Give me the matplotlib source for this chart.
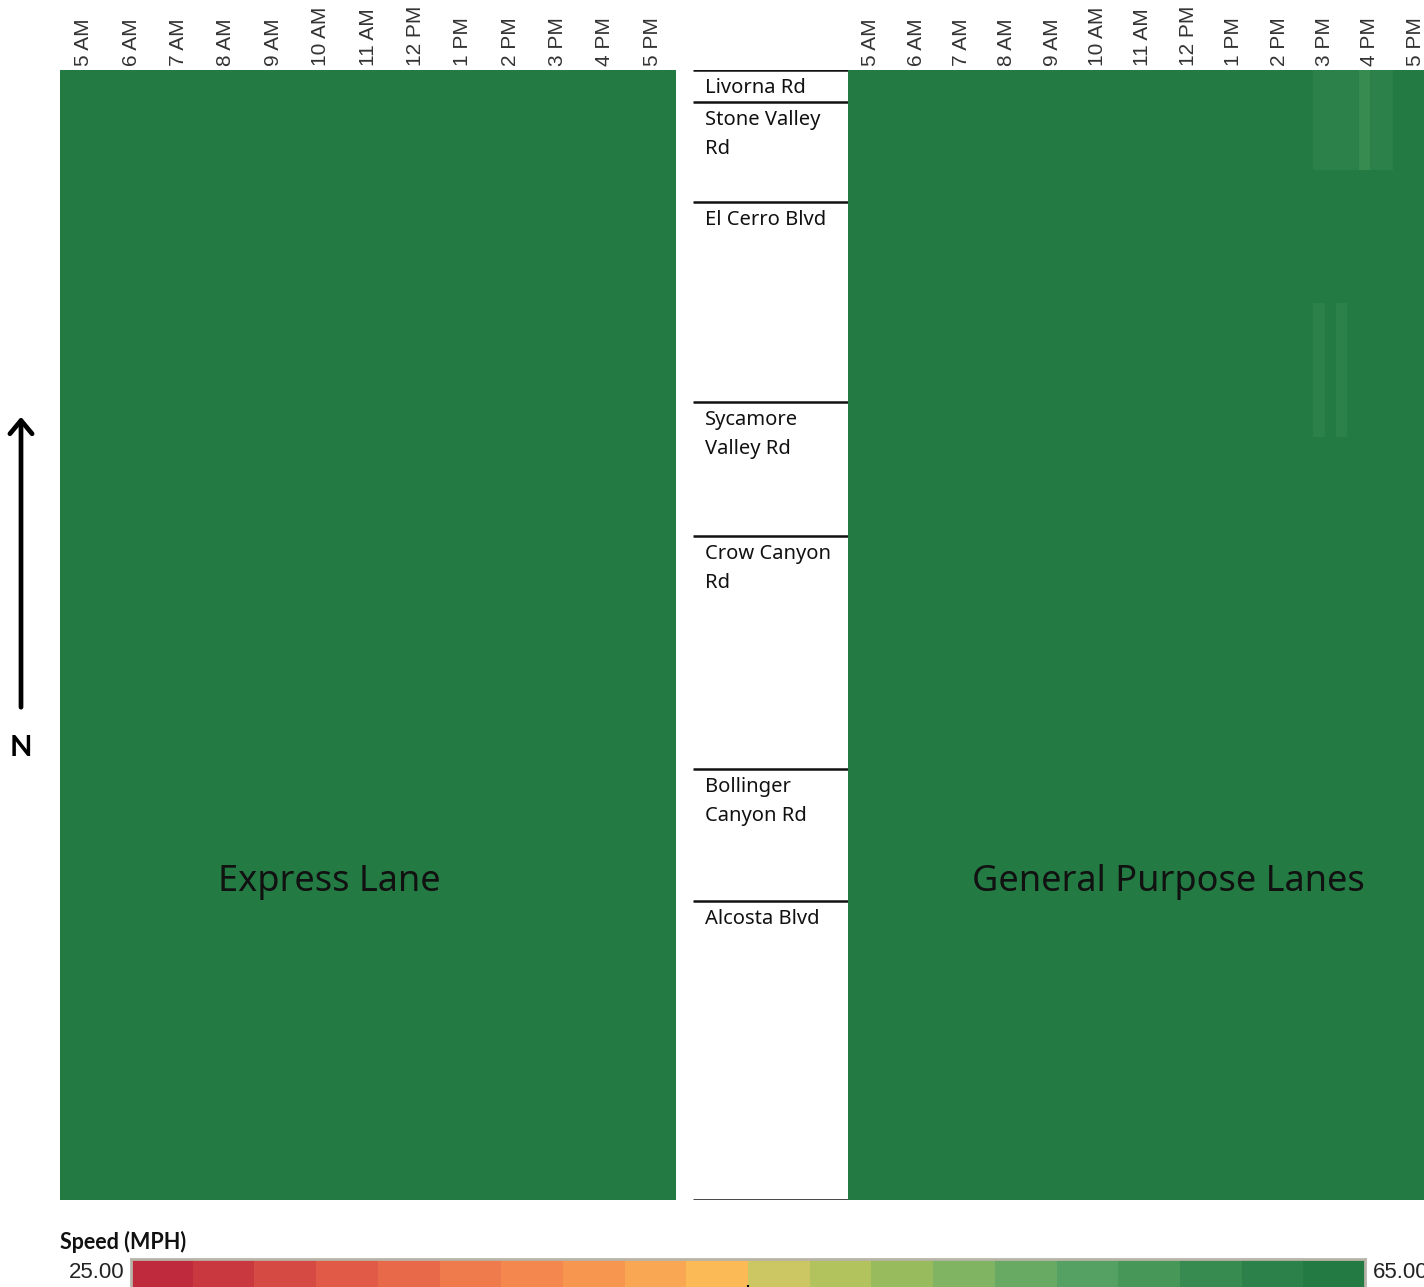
import matplotlib
matplotlib.use("Agg")
import matplotlib.pyplot as plt
import numpy as np
from matplotlib.colors import ListedColormap, BoundaryNorm
from matplotlib.patches import FancyArrowPatch

# ---------------- data ----------------
hour_ticks = [5, 6, 7, 8, 9, 10, 11, 12, 13, 14, 15, 16, 17]
hour_labels = ["5 AM", "6 AM", "7 AM", "8 AM", "9 AM", "10 AM", "11 AM",
               "12 PM", "1 PM", "2 PM", "3 PM", "4 PM", "5 PM"]
time_start, time_end, time_step = 4.5, 17.5, 0.25   # hours, 15-min bins

interchanges = ["Livorna Rd", "Stone Valley\nRd", "El Cerro Blvd", "Sycamore\nValley Rd",
                "Crow Canyon\nRd", "Bollinger\nCanyon Rd", "Alcosta Blvd"]
interchange_mi = [0.0, 0.32, 1.32, 3.32, 4.66, 6.99, 8.31]
corridor_end_mi = 11.30

lanes = ["Express Lane", "General Purpose Lanes"]
base_speed = [64.5, 64.5]

# slowdowns: lane index, start hour, end hour, start mile, end mile, speed (mph)
slow_lane = [1, 1, 1, 1]
slow_t0 = [14.75, 15.75, 14.75, 15.25]
slow_t1 = [16.50, 16.00, 15.00, 15.50]
slow_y0 = [0.00, 0.00, 2.33, 2.33]
slow_y1 = [1.00, 1.00, 3.67, 3.67]
slow_speed = [62.0, 60.0, 62.0, 62.0]

legend_bounds = [25, 27, 29, 31, 33, 35, 37, 39, 41, 43, 45,
                 47, 49, 51, 53, 55, 57, 59, 61, 63, 65]
legend_colors = ["#bf2a3c", "#c8383e", "#d54b44", "#e05a47", "#e8694a",
                 "#ef7a4b", "#f4874d", "#f7964f", "#f9a752", "#fbba56",
                 "#ccc762", "#b2c25c", "#98bb5e", "#80b462", "#68aa64",
                 "#55a163", "#479758", "#388b50", "#2c8049", "#237a42"]

# ---------------- figure ----------------
W, H = 1424, 1287
fig = plt.figure(figsize=(W / 100, H / 100), dpi=100)
fig.patch.set_facecolor("white")

def fax(x0, y0, w, h):
    return fig.add_axes([x0 / W, 1 - (y0 + h) / H, w / W, h / H])

cmap = ListedColormap(legend_colors)
norm = BoundaryNorm(legend_bounds, cmap.N)

x_edges = np.arange(time_start, time_end + time_step / 2, time_step)
y_edges = np.unique(np.array([0.0, corridor_end_mi] + slow_y0 + slow_y1))
xc = (x_edges[:-1] + x_edges[1:]) / 2
yc = (y_edges[:-1] + y_edges[1:]) / 2

panel_px = [(60, 616), (848, 590)]
title_px = [329, 1168]
tick_font = ["Liberation Sans", "DejaVu Sans"]
main_font = ["Noto Sans", "DejaVu Sans"]
bold_font = ["Lato", "DejaVu Sans"]

for li, (x0, w) in enumerate(panel_px):
    ax = fax(x0, 70, w, 1130)
    Z = np.full((len(yc), len(xc)), base_speed[li])
    for k in range(len(slow_lane)):
        if slow_lane[k] != li:
            continue
        mx = (xc > slow_t0[k]) & (xc < slow_t1[k])
        my = (yc > slow_y0[k]) & (yc < slow_y1[k])
        Z[np.ix_(my, mx)] = slow_speed[k]
    ax.pcolormesh(x_edges, y_edges, Z, cmap=cmap, norm=norm, shading="flat")
    ax.set_xlim(time_start, time_end)
    ax.set_ylim(corridor_end_mi, 0)
    ax.xaxis.tick_top()
    ax.set_xticks(hour_ticks)
    ax.set_xticklabels(hour_labels, rotation=90, fontsize=15,
                       family=tick_font, color="#333333")
    ax.tick_params(axis="x", length=0, pad=3)
    ax.set_yticks([])
    for s in ax.spines.values():
        s.set_visible(False)

# overlay in pixel coordinates
axo = fig.add_axes([0, 0, 1, 1], facecolor="none")
axo.set_zorder(10)
axo.set_xlim(0, W)
axo.set_ylim(H, 0)
axo.axis("off")

# lane titles
for li in range(len(lanes)):
    axo.text(title_px[li], 882, lanes[li], ha="center", va="center",
             fontsize=26, family=main_font, color="#111111")

# middle column of interchange names
axm = fax(693, 70, 155, 1130)
axm.set_xlim(0, 1)
axm.set_ylim(corridor_end_mi, 0)
axm.axis("off")
for name, pm in zip(interchanges, interchange_mi):
    axm.plot([0, 1], [pm, pm], color="#111111", lw=1.8, solid_capstyle="butt")
    axm.annotate(name, xy=(12 / 155, pm), xycoords="data",
                 xytext=(0, -6), textcoords="offset points",
                 ha="left", va="top", fontsize=14.5, family=main_font,
                 color="#111111", linespacing=1.55)
axm.plot([0, 1], [corridor_end_mi, corridor_end_mi], color="#111111",
         lw=1.8, solid_capstyle="butt")

# north arrow
arr = FancyArrowPatch((21, 710), (21, 414),
                      arrowstyle="->,head_length=6,head_width=5",
                      lw=3.4, color="black", mutation_scale=1.6)
axo.add_patch(arr)
axo.text(21, 748, "N", ha="center", va="center", fontsize=21,
         fontweight="bold", family=bold_font, color="black")

# legend
axo.text(60, 1242, "Speed (MPH)", ha="left", va="center", fontsize=15.5,
         fontweight="bold", family=bold_font, color="#111111")
axo.text(124, 1273, "%.2f" % legend_bounds[0], ha="right", va="center",
         fontsize=16, family=tick_font, color="#222222")
axo.text(1373, 1273, "%.2f" % legend_bounds[-1], ha="left", va="center",
         fontsize=16, family=tick_font, color="#222222")

axc = fax(131, 1259, 1234, 34)
axc.pcolormesh(legend_bounds, [0, 1],
               np.array([[(a + b) / 2 for a, b in zip(legend_bounds[:-1], legend_bounds[1:])]]),
               cmap=cmap, norm=norm, shading="flat")
axc.set_xlim(legend_bounds[0], legend_bounds[-1])
axc.set_ylim(1, 0)
axc.set_yticks([])
axc.set_xticks([45])
axc.set_xticklabels([""])
axc.tick_params(axis="x", direction="in", length=6, width=1.5, color="black", bottom=True)
for s in axc.spines.values():
    s.set_color("#b8b4a8")
    s.set_linewidth(2)

fig.savefig("out.png", dpi=100)
